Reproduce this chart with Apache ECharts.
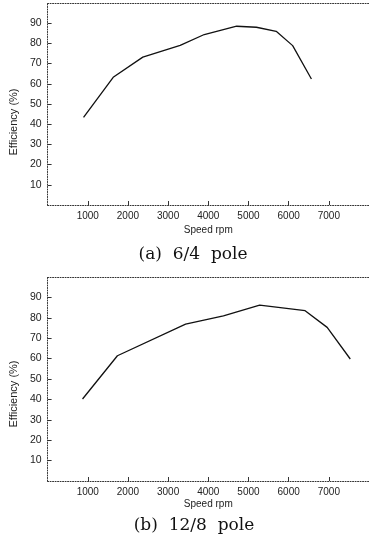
<!DOCTYPE html>
<html>
<head>
<meta charset="utf-8">
<script src="https://cdn.jsdelivr.net/npm/echarts@6/dist/echarts.min.js"></script>
<style>
  html, body { margin: 0; padding: 0; background: #fff; }
  #chart { width: 369px; height: 537px; }
</style>
</head>
<body>
<div id="chart"></div>
<script>
// (a) 6/4 pole
const speedA = [895, 1633, 2370, 3300, 3900, 4706, 5198, 5690, 6100, 6567];
const effA = [43.4, 63.2, 73.2, 79.0, 84.4, 88.5, 88.0, 86.0, 78.9, 62.4];
// (b) 12/8 pole
const speedB = [870, 1738, 3435, 4377, 5279, 6410, 6959, 7534];
const effB = [40.2, 61.4, 76.9, 81.0, 86.2, 83.5, 75.3, 59.8];

const captions = ['(a)  6/4  pole', '(b)  12/8  pole'];
const xTicks = [0, 1000, 2000, 3000, 4000, 5000, 6000, 7000, 8000];

const chart = echarts.init(document.getElementById('chart'), null, { renderer: 'canvas' });

const axisColor = '#333';
const labelFont = { color: '#222', fontSize: 10, fontFamily: 'Liberation Sans' };

function xAxisFor(gridIndex, nameGap) {
  return {
    type: 'value',
    gridIndex,
    min: xTicks[0],
    max: xTicks[xTicks.length - 1],
    interval: 1000,
    name: 'Speed rpm',
    nameLocation: 'middle',
    nameGap,
    nameTextStyle: { ...labelFont },
    axisLine: { lineStyle: { color: axisColor, type: [1, 1.5], width: 1 } },
    axisTick: { inside: true, length: 4, lineStyle: { color: axisColor } },
    axisLabel: {
      ...labelFont, margin: 6, showMinLabel: false, showMaxLabel: false,
      formatter: (v) => String(v),
    },
    splitLine: { show: false },
  };
}

function topBorder(gridIndex) {
  return {
    type: 'value',
    gridIndex,
    position: 'top',
    min: 0,
    max: 8000,
    axisLine: { show: true, lineStyle: { color: axisColor, type: [1, 1.5], width: 1 } },
    axisTick: { show: false },
    axisLabel: { show: false },
    splitLine: { show: false },
  };
}

function yAxisFor(gridIndex, shift) {
  return {
    type: 'value',
    gridIndex,
    min: 0,
    max: 100,
    interval: 10,
    name: 'Efficiency (%)',
    nameLocation: 'middle',
    nameGap: 25,
    nameTextStyle: { color: '#222', fontSize: 11, fontFamily: 'Liberation Sans', padding: [0, shift, 0, 0] },
    axisLine: { show: true, lineStyle: { color: axisColor, type: [1, 1.5], width: 1 } },
    axisTick: { show: true, inside: true, length: 4, lineStyle: { color: axisColor } },
    axisLabel: { ...labelFont, fontSize: 10.5, margin: 6, showMinLabel: false, showMaxLabel: false },
    splitLine: { show: false },
  };
}

chart.setOption({
  backgroundColor: '#fff',
  animation: false,
  title: [
    {
      text: captions[0], left: 188, top: 241, textAlign: 'center',
      textStyle: { fontFamily: 'DejaVu Serif', fontWeight: 'normal', fontSize: 17, color: '#111' },
    },
    {
      text: captions[1], left: 189, top: 512, textAlign: 'center',
      textStyle: { fontFamily: 'DejaVu Serif', fontWeight: 'normal', fontSize: 17, color: '#111' },
    },
  ],
  grid: [
    { left: 45, top: 3, width: 326, height: 202 },
    { left: 45, top: 277, width: 326, height: 204 },
  ],
  xAxis: [xAxisFor(0, 20), xAxisFor(1, 18), topBorder(0), topBorder(1)],
  yAxis: [yAxisFor(0, 36), yAxisFor(1, 30)],
  series: [
    {
      type: 'line',
      xAxisIndex: 0,
      yAxisIndex: 0,
      data: speedA.map((s, i) => [s, effA[i]]),
      symbol: 'none',
      lineStyle: { color: '#111', width: 1.3 },
    },
    {
      type: 'line',
      xAxisIndex: 1,
      yAxisIndex: 1,
      data: speedB.map((s, i) => [s, effB[i]]),
      symbol: 'none',
      lineStyle: { color: '#111', width: 1.3 },
    },
  ],
});
</script>
</body>
</html>
